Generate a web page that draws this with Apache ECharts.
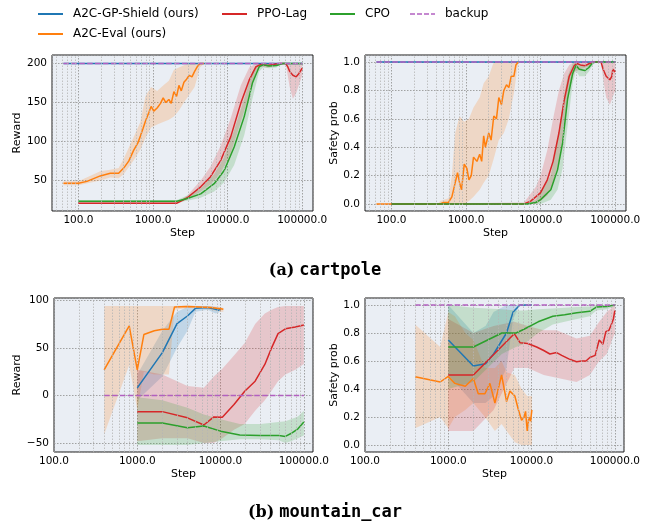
<!DOCTYPE html>
<html>
<head>
<meta charset="utf-8">
<script src="https://cdn.jsdelivr.net/npm/echarts@6/dist/echarts.min.js"></script>
<style>
html, body { margin: 0; padding: 0; background: #fff; }
#chart { width: 650px; height: 529px; }
</style>
</head>
<body>
<div id="chart"></div>
<script>
// legend names + matplotlib-ish colors
var names = ['A2C-GP-Shield (ours)', 'A2C-Eval (ours)', 'PPO-Lag', 'CPO', 'backup'];
var colors = ['#1f77b4', '#ff7f0e', '#d62728', '#2ca02c', '#b260c0'];

// ---------- cartpole : reward ----------
var cpShieldX = [63, 100000];
var cpRewShield = [200, 200];
var cpBackupX = [63, 100000];
var cpRewBackup = [200, 200];

var cpEvalX = [63, 100, 130, 196, 267, 346, 404, 472, 551, 624, 677, 736, 791, 877, 943, 1023, 1135, 1259, 1368, 1486,
  1630, 1753, 1905, 2070, 2224, 2392, 2596, 2820, 3060, 3325, 3612, 3925, 4265, 4830];
var cpRewEval = [46.6, 46.6, 49, 56, 59.4, 59.4, 66, 75, 89, 98, 107, 117, 126, 137, 145, 139, 143, 149, 156, 150,
  154, 149, 164, 158, 172, 165, 176, 180, 185, 183, 190, 196, 200, 200];
var cpEvalBandX = [63, 100, 196, 267, 346, 404, 551, 677, 791, 943, 1135, 1368, 1630, 1905, 2224, 2596, 3060, 3612, 4265, 4830];
var cpRewEvalLo = [44, 44, 50, 54, 53, 58, 76, 90, 105, 118, 122, 125, 128, 132, 140, 150, 160, 170, 195, 200];
var cpRewEvalHi = [49, 49, 62, 64, 66, 78, 106, 125, 158, 170, 165, 172, 178, 192, 195, 198, 200, 200, 200, 200];

var cpPpoX = [100, 2090, 2880, 3540, 4360, 5900, 8100, 11000, 15000, 19500, 24000, 28000, 34500, 42500, 50000, 60000,
  64000, 68000, 75000, 83000, 90000, 100000];
var cpRewPpo = [21, 21, 28, 35, 42, 55, 76, 106, 149, 179, 196, 199, 197.5, 199, 200, 200, 196, 190, 185, 183, 187, 194];
var cpPpoBandX = [100, 2090, 2880, 4360, 5900, 8100, 11000, 15000, 19500, 24000, 28000, 34500, 50000, 60000, 68000, 75000, 83000, 100000];
var cpRewPpoLo = [20, 20, 26, 36, 45, 60, 85, 125, 160, 190, 196, 195, 198, 200, 170, 155, 162, 185];
var cpRewPpoHi = [22, 22, 31, 50, 68, 95, 130, 172, 195, 200, 200, 200, 200, 200, 200, 200, 200, 200];

var cpCpoX = [100, 2090, 2880, 4360, 6600, 9000, 12250, 16700, 21500, 26500, 30000, 36000, 45000, 55000, 100000];
var cpRewCpo = [23.5, 23.5, 27, 33, 46, 63, 93, 132, 175, 196, 198.5, 197, 197.5, 200, 200];
var cpRewCpoLo = [22, 22, 24, 28, 36, 48, 70, 108, 155, 190, 195, 194, 195, 200, 200];
var cpRewCpoHi = [25, 25, 31, 40, 58, 80, 115, 155, 190, 200, 200, 200, 200, 200, 200];

// ---------- cartpole : safety prob ----------
var cpSafeShield = [1, 1];
var cpSafeBackup = [1, 1];

var cpSafeEvalX = [63, 100, 449, 498, 582, 646, 716, 769, 819, 871, 946, 1027, 1094, 1175, 1260, 1402, 1524, 1622, 1725, 1818,
  2017, 2169, 2355, 2558, 2752, 2987, 3213, 3490, 3750, 4035, 4383, 4665, 5015];
var cpSafeEval = [0, 0, 0, 0.01, 0.01, 0.05, 0.15, 0.22, 0.15, 0.1, 0.28, 0.25, 0.17, 0.2, 0.33, 0.3, 0.35, 0.3, 0.48, 0.4,
  0.5, 0.45, 0.62, 0.6, 0.75, 0.7, 0.8, 0.84, 0.82, 0.9, 0.9, 0.98, 1.0];
var cpSafeEvalBandX = [63, 420, 450, 582, 646, 716, 819, 946, 1094, 1260, 1524, 1725, 2017, 2355, 2752, 3213, 3750, 4383, 5015];
var cpSafeEvalLo = [0, 0, 0, 0, 0, 0, 0, 0, 0.02, 0.05, 0.1, 0.15, 0.2, 0.32, 0.45, 0.5, 0.6, 0.78, 1.0];
var cpSafeEvalHi = [0, 0, 0.02, 0.04, 0.2, 0.5, 0.62, 0.58, 0.6, 0.68, 0.75, 0.85, 0.9, 1.0, 1.0, 1.0, 1.0, 1.0, 1.0];

var cpSafePpoX = [100, 5990, 7360, 8600, 10000, 12300, 14700, 17600, 20700, 24200, 28300, 30700, 34100, 39800, 45100,
  52000, 64600, 68900, 75700, 84800, 90000, 93000, 100000];
var cpSafePpo = [0, 0, 0.02, 0.05, 0.08, 0.17, 0.3, 0.5, 0.73, 0.9, 0.976, 0.99, 0.98, 0.975, 0.99,
  1.0, 1.0, 0.95, 0.9, 0.875, 0.9, 0.95, 0.93];
var cpSafePpoBandX = [100, 5990, 8600, 10000, 12300, 14700, 17600, 20700, 24200, 28300, 34100, 45100, 52000, 64600, 68900, 75700, 84800, 100000];
var cpSafePpoLo = [0, 0, 0, 0.02, 0.06, 0.15, 0.3, 0.55, 0.8, 0.93, 0.95, 0.97, 1.0, 1.0, 0.88, 0.75, 0.7, 0.8];
var cpSafePpoHi = [0, 0.01, 0.12, 0.2, 0.38, 0.6, 0.8, 0.92, 0.98, 1.0, 1.0, 1.0, 1.0, 1.0, 1.0, 1.0, 1.0, 1.0];

var cpSafeCpoX = [100, 6500, 8600, 10000, 13700, 16850, 19700, 23000, 26900, 29800, 33000, 39000, 44000, 50000, 55000, 100000];
var cpSafeCpo = [0, 0, 0.01, 0.03, 0.1, 0.24, 0.43, 0.74, 0.92, 0.976, 0.95, 0.94, 0.96, 0.995, 1.0, 1.0];
var cpSafeCpoLo = [0, 0, 0, 0, 0.03, 0.1, 0.25, 0.55, 0.85, 0.94, 0.9, 0.9, 0.93, 0.98, 1.0, 1.0];
var cpSafeCpoHi = [0, 0, 0.03, 0.08, 0.2, 0.45, 0.7, 0.9, 0.99, 1.0, 0.98, 0.97, 0.99, 1.0, 1.0, 1.0];

// ---------- mountain_car : reward ----------
var mcBackupX = [400, 100000];
var mcRewBackup = [0, 0];

var mcEvalX = [400, 800, 1000, 1200, 1600, 2000, 2400, 2800, 4000, 5600, 7600, 10000, 10800];
var mcRewEval = [27, 73, 27, 64, 68, 69.5, 69.5, 93, 93.5, 93, 92.5, 91, 90.5];
var mcRewEvalLo = [-41, 32, -15, 25, 22, 22, 22, 90, 92, 92, 90, 88, 88];
var mcRewEvalHi = [94, 94, 94, 94, 94, 94, 94, 94, 94.5, 94, 94, 93, 92];

var mcShieldX = [1000, 2000, 3000, 4000, 5000, 7000, 8700, 9500, 10000];
var mcRewShield = [8, 45, 75.5, 83.5, 91.5, 92.3, 90.5, 89.5, 91];
var mcRewShieldLo = [-5, 20, 50, 68, 88, 90, 86, 87, 90];
var mcRewShieldHi = [22, 68, 88, 93, 94, 94, 93, 92, 92];

var mcPpoX = [1000, 2000, 4000, 6300, 8300, 10500, 14500, 19500, 26000, 34000, 41000, 49000, 60000, 79000, 100000];
var mcRewPpo = [-17, -17, -23.5, -31, -22.5, -22.8, -9.5, 4.5, 15, 32.6, 50, 65, 70, 72, 74];
var mcRewPpoLo = [-48, -45, -45, -50, -50, -45, -36, -30, -16, -5, 5, 15, 22, 27, 33];
var mcRewPpoHi = [27, 22, 10, 8, 20, 28, 42, 55, 75, 86, 90, 93, 94, 94, 94];

var mcCpoX = [1000, 2000, 4000, 6300, 10000, 17000, 30000, 50000, 60000, 70000, 85000, 100000];
var mcRewCpo = [-29, -29, -34, -32, -37.5, -41.5, -42, -42, -43, -40, -35, -28];
var mcRewCpoLo = [-52, -52, -52, -50, -48, -46, -46, -47, -50, -48, -45, -42];
var mcRewCpoHi = [-2, -5, -13, -20, -25, -30, -30, -28, -27, -25, -22, -16];

// ---------- mountain_car : safety prob ----------
var mcSafeBackup = [1, 1];

var mcSafeEvalX = [400, 800, 1000, 1200, 1600, 2000, 2290, 2754, 3160, 3630, 4365, 5010, 5495, 6300, 6920, 7590, 8090, 8470, 8870, 9290, 9730, 10090];
var mcSafeEval = [0.487, 0.45, 0.49, 0.44, 0.42, 0.475, 0.366, 0.366, 0.44, 0.3, 0.5, 0.31, 0.385, 0.35, 0.255, 0.177, 0.196, 0.24, 0.1, 0.2, 0.17, 0.25];
var mcSafeEvalBandX = [400, 800, 1000, 1200, 1600, 2000, 2754, 3630, 4365, 5010, 6300, 7590, 8870, 10090];
var mcSafeEvalLo = [0.12, 0.2, 0.12, 0.2, 0.25, 0.3, 0.2, 0.1, 0.15, 0.1, 0.02, 0, 0, 0];
var mcSafeEvalHi = [0.86, 0.7, 0.95, 0.92, 0.8, 0.75, 0.55, 0.55, 0.6, 0.52, 0.5, 0.4, 0.35, 0.35];

var mcSafeShieldX = [1000, 2000, 2800, 3500, 5000, 6000, 7244, 10000];
var mcSafeShield = [0.75, 0.565, 0.58, 0.65, 0.8, 0.95, 1.0, 1.0];
var mcSafeShieldLo = [0.5, 0.3, 0.3, 0.35, 0.55, 0.9, 1.0, 1.0];
var mcSafeShieldHi = [1.0, 0.8, 0.85, 0.95, 1.0, 1.0, 1.0, 1.0];

var mcSafePpoX = [1000, 2000, 6200, 7300, 9000, 11500, 14000, 16600, 20000, 23000, 28000, 34700, 40000, 45000, 50100,
  58000, 64900, 72000, 78000, 85000, 92000, 96000, 100000];
var mcSafePpo = [0.5, 0.5, 0.795, 0.73, 0.725, 0.7, 0.675, 0.65, 0.66, 0.64, 0.615, 0.595, 0.6, 0.6, 0.625,
  0.64, 0.75, 0.72, 0.81, 0.82, 0.87, 0.9, 0.96];
var mcSafePpoBandX = [1000, 2000, 3500, 6200, 9000, 14000, 20000, 34700, 50100, 64900, 80000, 100000];
var mcSafePpoLo = [0.1, 0.1, 0.25, 0.55, 0.55, 0.5, 0.48, 0.45, 0.5, 0.6, 0.65, 0.8];
var mcSafePpoHi = [0.9, 0.8, 0.85, 0.88, 0.85, 0.82, 0.82, 0.76, 0.78, 0.88, 0.95, 1.0];

var mcSafeCpoX = [1000, 2000, 4400, 6500, 8000, 12000, 18000, 25000, 35000, 50000, 60000, 80000, 100000];
var mcSafeCpo = [0.7, 0.7, 0.8, 0.8, 0.825, 0.88, 0.92, 0.93, 0.945, 0.955, 0.985, 0.99, 1.0];
var mcSafeCpoLo = [0.4, 0.45, 0.65, 0.7, 0.72, 0.8, 0.86, 0.88, 0.9, 0.92, 0.96, 0.97, 0.99];
var mcSafeCpoHi = [1.0, 0.98, 0.97, 0.96, 0.96, 0.97, 0.975, 0.98, 0.985, 0.99, 1.0, 1.0, 1.0];

// axis setup per panel: [xmin, xmax], [ymin, ymax, splitNumber, labelStep]
var xRanges = [[44.2, 139600], [44.2, 139600], [100, 128800], [100, 128800]];
var yRanges = [[11, 211, 4, 50], [-0.05, 1.05, 5, 0.2], [-59.4, 102.4, 3, 50], [-0.05, 1.05, 5, 0.2]];
var yNames = ['Reward', 'Safety prob', 'Reward', 'Safety prob'];

var FONT = 'DejaVu Sans';
var BG = '#eaeef4';

var chart = echarts.init(document.getElementById('chart'));

var gridBoxes = [
  { left: 52, top: 55, width: 261, height: 156 },
  { left: 365, top: 55, width: 261, height: 156 },
  { left: 54, top: 298, width: 259, height: 154 },
  { left: 365, top: 298, width: 259, height: 154 }
];
var yNameGaps = [27, 22, 29, 22];

function xFmt(v) {
  var l = Math.log10(v);
  if (Math.abs(l - Math.round(l)) > 1e-6) return '';
  return Math.pow(10, Math.round(l)).toFixed(1);
}
function yFmt(step, dec) {
  return function (v) {
    var k = v / step;
    if (Math.abs(k - Math.round(k)) > 1e-6) return '';
    var s = (Math.round(k) * step).toFixed(dec);
    return s.charAt(0) === '-' ? '\u2212' + s.slice(1) : s;
  };
}

var grids = [], xAxes = [], yAxes = [], series = [];

gridBoxes.forEach(function (b, i) {
  grids.push({
    left: b.left, top: b.top, width: b.width, height: b.height,
    show: true, backgroundColor: BG, borderColor: '#1a1a1a', borderWidth: 1
  });
  xAxes.push({
    type: 'log', logBase: 10, gridIndex: i,
    min: xRanges[i][0], max: xRanges[i][1],
    name: 'Step', nameLocation: 'middle', nameGap: 17,
    nameTextStyle: { fontFamily: FONT, fontSize: 11, color: '#000' },
    axisLine: { show: false }, axisTick: { show: false },
    axisLabel: { formatter: xFmt, fontFamily: FONT, fontSize: 10.5, color: '#000', margin: 4 },
    splitLine: { show: true, lineStyle: { color: '#999', width: 0.9, type: [1.5, 1.5] } }
  });
  var yr = yRanges[i];
  yAxes.push({
    type: 'value', gridIndex: i,
    min: yr[0], max: yr[1], splitNumber: yr[2],
    name: yNames[i], nameLocation: 'middle', nameGap: yNameGaps[i],
    nameTextStyle: { fontFamily: FONT, fontSize: 11, color: '#000' },
    axisLine: { show: false }, axisTick: { show: false },
    axisLabel: { formatter: yFmt(yr[3], yr[3] < 1 ? 1 : 0), fontFamily: FONT, fontSize: 10.5, color: '#000', margin: 5 },
    splitLine: { show: true, lineStyle: { color: '#999', width: 0.9, type: [1.5, 1.5] } }
  });

  // minor log gridlines (2..9 x 10^k) drawn as markLines on an empty helper series
  var minor = [];
  for (var p = 1; p <= 5; p++) {
    for (var m = 2; m <= 9; m++) {
      var v = m * Math.pow(10, p);
      if (v > xRanges[i][0] && v < xRanges[i][1]) minor.push({ xAxis: v });
    }
  }
  series.push({
    type: 'line', xAxisIndex: i, yAxisIndex: i, data: [], silent: true, z: 1,
    markLine: {
      silent: true, symbol: ['none', 'none'], label: { show: false }, animation: false,
      lineStyle: { color: '#b5b5b5', width: 0.8, type: [1.5, 1.5] },
      data: minor
    }
  });
});

function band(gi, xs, lo, hi, color) {
  series.push({
    type: 'custom', xAxisIndex: gi, yAxisIndex: gi, silent: true, clip: true, z: 2,
    data: xs.map(function (x, k) { return [x, lo[k], hi[k]]; }),
    encode: { x: 0, y: [1, 2] },
    renderItem: function (params, api) {
      if (params.dataIndex !== 0) return null;
      var pts = [];
      for (var k = 0; k < xs.length; k++) pts.push(api.coord([xs[k], hi[k]]));
      for (var j = xs.length - 1; j >= 0; j--) pts.push(api.coord([xs[j], lo[j]]));
      return { type: 'polygon', shape: { points: pts }, style: { fill: color, opacity: 0.2 } };
    }
  });
}

function line(gi, ni, xs, ys) {
  series.push({
    name: names[ni], type: 'line', xAxisIndex: gi, yAxisIndex: gi, z: 3,
    data: xs.map(function (x, k) { return [x, ys[k]]; }),
    showSymbol: false, symbol: 'none', silent: true, animation: false,
    color: colors[ni],
    lineStyle: { color: colors[ni], width: 1.5, type: ni === 4 ? [5.5, 2.4] : 'solid' }
  });
}

// bands
band(0, cpEvalBandX, cpRewEvalLo, cpRewEvalHi, colors[1]);
band(0, cpPpoBandX, cpRewPpoLo, cpRewPpoHi, colors[2]);
band(0, cpCpoX, cpRewCpoLo, cpRewCpoHi, colors[3]);

band(1, cpSafeEvalBandX, cpSafeEvalLo, cpSafeEvalHi, colors[1]);
band(1, cpSafePpoBandX, cpSafePpoLo, cpSafePpoHi, colors[2]);
band(1, cpSafeCpoX, cpSafeCpoLo, cpSafeCpoHi, colors[3]);

band(2, mcShieldX, mcRewShieldLo, mcRewShieldHi, colors[0]);
band(2, mcEvalX, mcRewEvalLo, mcRewEvalHi, colors[1]);
band(2, mcPpoX, mcRewPpoLo, mcRewPpoHi, colors[2]);
band(2, mcCpoX, mcRewCpoLo, mcRewCpoHi, colors[3]);

band(3, mcSafeShieldX, mcSafeShieldLo, mcSafeShieldHi, colors[0]);
band(3, mcSafeEvalBandX, mcSafeEvalLo, mcSafeEvalHi, colors[1]);
band(3, mcSafePpoBandX, mcSafePpoLo, mcSafePpoHi, colors[2]);
band(3, mcSafeCpoX, mcSafeCpoLo, mcSafeCpoHi, colors[3]);

// mean lines
line(0, 0, cpShieldX, cpRewShield);
line(0, 1, cpEvalX, cpRewEval);
line(0, 2, cpPpoX, cpRewPpo);
line(0, 3, cpCpoX, cpRewCpo);
line(0, 4, cpBackupX, cpRewBackup);

line(1, 0, cpShieldX, cpSafeShield);
line(1, 1, cpSafeEvalX, cpSafeEval);
line(1, 2, cpSafePpoX, cpSafePpo);
line(1, 3, cpSafeCpoX, cpSafeCpo);
line(1, 4, cpBackupX, cpSafeBackup);

line(2, 0, mcShieldX, mcRewShield);
line(2, 1, mcEvalX, mcRewEval);
line(2, 2, mcPpoX, mcRewPpo);
line(2, 3, mcCpoX, mcRewCpo);
line(2, 4, mcBackupX, mcRewBackup);

line(3, 0, mcSafeShieldX, mcSafeShield);
line(3, 1, mcSafeEvalX, mcSafeEval);
line(3, 2, mcSafePpoX, mcSafePpo);
line(3, 3, mcSafeCpoX, mcSafeCpo);
line(3, 4, mcBackupX, mcSafeBackup);

// legend: thin bar icons (dashed one for backup), matplotlib-like placement
var dashIcon = 'path://M0,0h5v2h-5zM7,0h5v2h-5zM14,0h5v2h-5zM21,0h4v2h-4z';
var legendPos = [[38, 8], [38, 28], [222, 8], [330, 8], [410, 8]];
var legends = names.map(function (n, i) {
  return {
    data: [{ name: n, icon: i === 4 ? dashIcon : 'rect' }],
    left: legendPos[i][0], top: legendPos[i][1], padding: 0,
    itemWidth: 25, itemHeight: 2, selectedMode: false,
    itemStyle: { color: colors[i], borderWidth: 0, opacity: i === 4 ? 0.75 : 1 },
    textStyle: { fontFamily: FONT, fontSize: 12, color: '#000', padding: [0, 0, 0, 5] }
  };
});

var capRich = {
  a: { fontFamily: 'DejaVu Serif', fontWeight: 'bold', fontSize: 16, color: '#000' },
  b: { fontFamily: 'DejaVu Sans Mono', fontWeight: 'bold', fontSize: 17, color: '#000' }
};

chart.setOption({
  animation: false,
  backgroundColor: '#fff',
  title: [
    { text: '{a|(a)} {b|cartpole}', left: 'center', top: 262, padding: 0, textStyle: { rich: capRich } },
    { text: '{a|(b)} {b|mountain_car}', left: 'center', top: 504, padding: 0, textStyle: { rich: capRich } }
  ],
  legend: legends,
  grid: grids,
  xAxis: xAxes,
  yAxis: yAxes,
  series: series
});
</script>
</body>
</html>
